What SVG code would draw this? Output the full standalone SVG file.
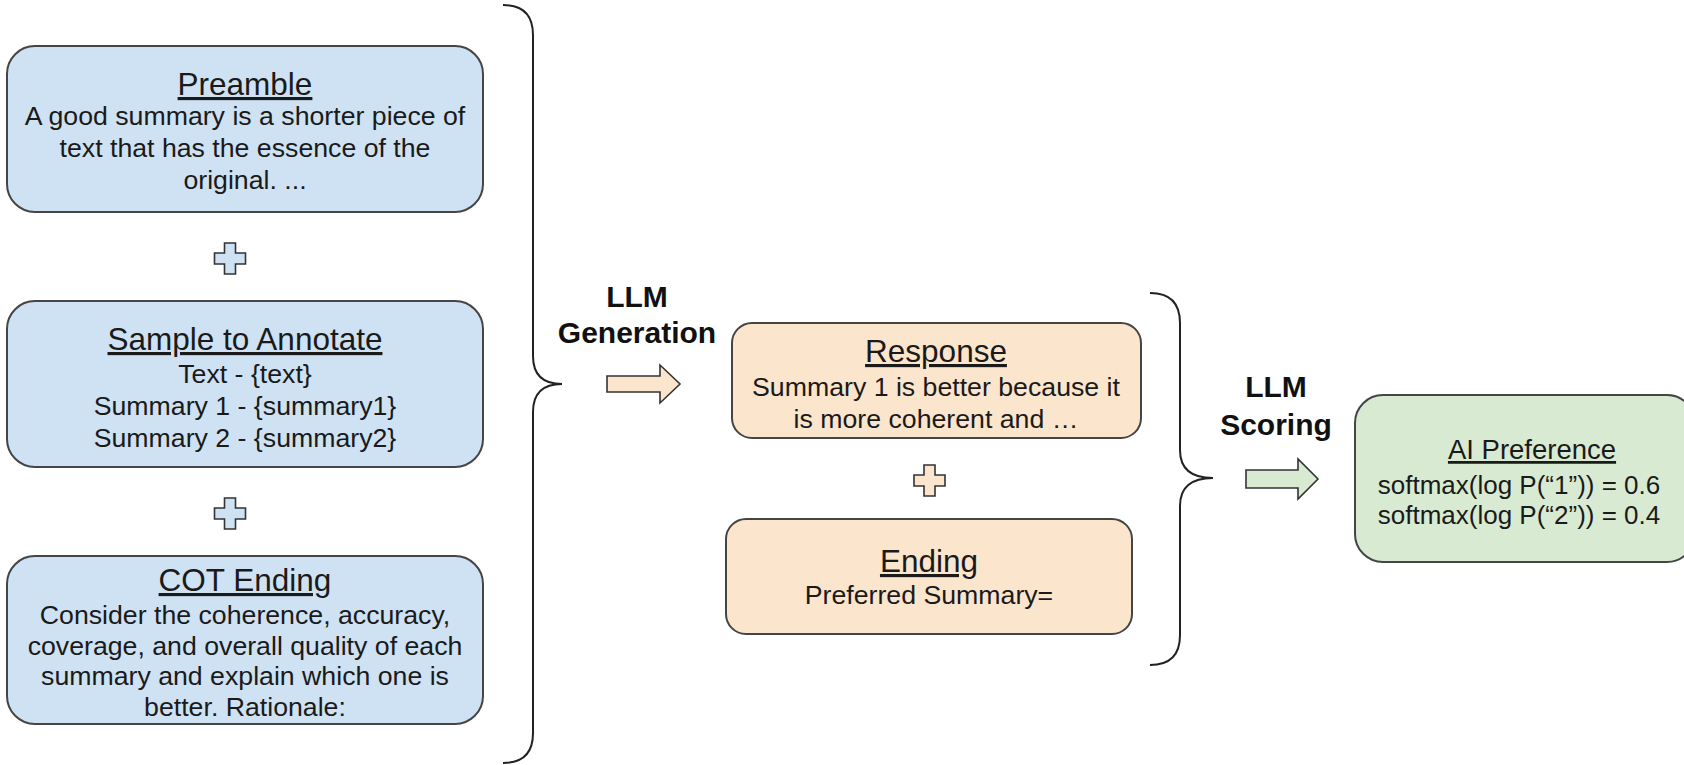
<svg xmlns="http://www.w3.org/2000/svg" width="1684" height="765" viewBox="0 0 1684 765">
<style>
.box{stroke:#454545;stroke-width:2}
.blue{fill:#cfe2f3}
.orange{fill:#fce5cd}
.green{fill:#d9ead3}
.t{font-family:"Liberation Sans",Arial,sans-serif;fill:#1a1a1a;text-anchor:middle}
.title{font-size:31.5px;text-decoration:underline}
.body{font-size:26.7px}
.lbl{font-family:"Liberation Sans",Arial,sans-serif;font-weight:bold;font-size:30px;fill:#111;text-anchor:middle}
.brace{fill:none;stroke:#222;stroke-width:2}
.plus{stroke:#333;stroke-width:1.6}
.arrow{stroke:#333;stroke-width:1.6}
</style>
<rect width="1684" height="765" fill="#ffffff"/>

<g id="preamble">
<rect class="box blue" x="7" y="46" width="476" height="166" rx="28"/>
<text class="t title" x="245" y="95">Preamble</text>
<text class="t body" x="245" y="125">A good summary is a shorter piece of</text>
<text class="t body" x="245" y="157">text that has the essence of the</text>
<text class="t body" x="245" y="189">original. ...</text>
</g>

<g id="plus1">
<path class="plus blue" d="M224.5,243 h11 v10 h10 v11 h-10 v10 h-11 v-10 h-10 v-11 h10 z"/>
</g>

<g id="sample">
<rect class="box blue" x="7" y="301" width="476" height="166" rx="28"/>
<text class="t title" x="245" y="350">Sample to Annotate</text>
<text class="t body" x="245" y="383">Text - {text}</text>
<text class="t body" x="245" y="415">Summary 1 - {summary1}</text>
<text class="t body" x="245" y="447">Summary 2 - {summary2}</text>
</g>

<g id="plus2">
<path class="plus blue" d="M224.5,498 h11 v10 h10 v11 h-10 v10 h-11 v-10 h-10 v-11 h10 z"/>
</g>

<g id="cot">
<rect class="box blue" x="7" y="556" width="476" height="168" rx="28"/>
<text class="t title" x="245" y="591">COT Ending</text>
<text class="t body" x="245" y="624">Consider the coherence, accuracy,</text>
<text class="t body" x="245" y="655">coverage, and overall quality of each</text>
<text class="t body" x="245" y="685">summary and explain which one is</text>
<text class="t body" x="245" y="716">better. Rationale:</text>
</g>

<g id="llm-generation">
<text class="lbl" x="637" y="307">LLM</text>
<text class="lbl" x="637" y="343">Generation</text>
</g>

<g id="response">
<rect class="box orange" x="732" y="323" width="409" height="115" rx="20"/>
<text class="t title" x="936" y="362">Response</text>
<text class="t body" x="936" y="396">Summary 1 is better because it</text>
<text class="t body" x="936" y="428">is more coherent and …</text>
</g>

<g id="plus3">
<path class="plus orange" d="M924,465 h11 v10 h10 v11 h-10 v10 h-11 v-10 h-10 v-11 h10 z"/>
</g>

<g id="ending">
<rect class="box orange" x="726" y="519" width="406" height="115" rx="20"/>
<text class="t title" x="929" y="572">Ending</text>
<text class="t body" x="929" y="604">Preferred Summary=</text>
</g>

<g id="llm-scoring">
<text class="lbl" x="1276" y="397">LLM</text>
<text class="lbl" x="1276" y="435">Scoring</text>
</g>

<g id="ai-preference">
<rect class="box green" x="1355" y="395" width="340" height="167" rx="28"/>
<text class="t title" x="1532" y="459" style="font-size:27.5px">AI Preference</text>
<text class="t body" x="1519" y="494" style="font-size:26px">softmax(log P(“1”)) = 0.6</text>
<text class="t body" x="1519" y="524" style="font-size:26px">softmax(log P(“2”)) = 0.4</text>
</g>

<g id="connectors">
<path class="brace" d="M503,5 Q533,5 533,35 L533,356 Q533,384 562,384 Q533,384 533,412 L533,733 Q533,763 503,763"/>
<path class="brace" d="M1150,293 Q1180,293 1180,323 L1180,450 Q1180,478 1213,478 Q1180,478 1180,506 L1180,635 Q1180,665 1150,665"/>
<path class="arrow orange" d="M607,376 H660 V365 L680,384 L660,403 V392 H607 Z"/>
<path class="arrow green" d="M1246,470 H1298 V459 L1318,479 L1298,499 V488 H1246 Z"/>
</g>
</svg>
